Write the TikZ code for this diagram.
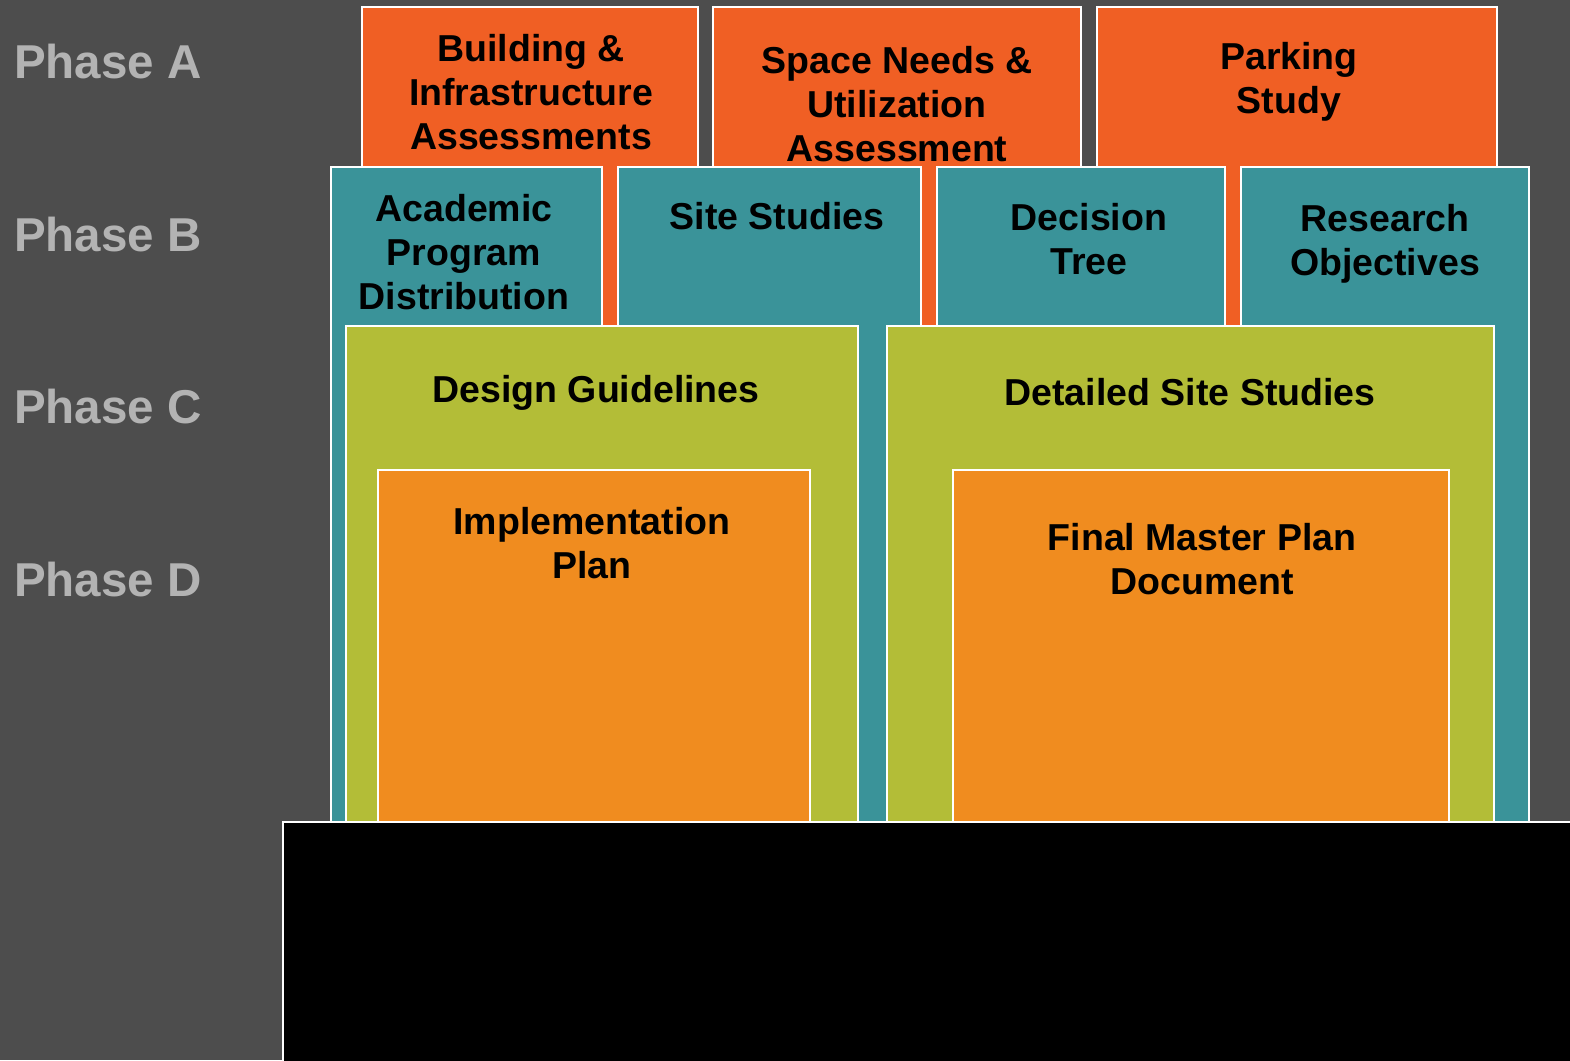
\documentclass[tikz,border=0pt]{standalone}
\usepackage{fontspec}
\setmainfont{Liberation Sans}
\definecolor{bgc}{HTML}{4D4D4D}
\definecolor{orA}{HTML}{F05F24}
\definecolor{tealB}{HTML}{3A9399}
\definecolor{grC}{HTML}{B3BD37}
\definecolor{orD}{HTML}{F08C1F}
\definecolor{phg}{HTML}{B3B3B3}
\tikzset{
  blk/.style={draw=white, line width=2.5pt, inner sep=0pt, minimum width=#1},
  boxA/.style={blk=#1, fill=orA},
  boxB/.style={blk=#1, fill=tealB},
  boxC/.style={blk=#1, fill=grC},
  boxD/.style={blk=#1, fill=orD},
  boxK/.style={blk=#1, fill=black},
  txt/.style={align=center, inner sep=0pt, font=\fontsize{37.5}{44}\selectfont\bfseries, text=black},
  phase/.style={anchor=west, inner sep=0pt, font=\fontsize{47.5}{50}\selectfont\bfseries, text=phg}
}
\begin{document}
\begin{tikzpicture}[x=1pt,y=-1pt]
\useasboundingbox (0,0) rectangle (1570,1060);
\fill[bgc] (0,0) rectangle (1570,1060);
% Phase labels
\node[phase] (pa) at (14,62) {Phase A};
\node[phase] (pb) at (14,235) {Phase B};
\node[phase] (pc) at (14,407) {Phase C};
\node[phase] (pd) at (14,580) {Phase D};
% Phase A
\node[boxA=336pt, minimum height=319pt] (a1) at (530,166.5) {};
\node[boxA=368pt, minimum height=319pt] (a2) at (897,166.5) {};
\node[boxA=400pt, minimum height=319pt] (a3) at (1297,166.5) {};
% Phase B
\node[boxB=271pt, minimum height=655pt] (b1) at (466.5,494.5) {};
\node[boxB=303pt, minimum height=655pt] (b2) at (769.5,494.5) {};
\node[boxB=288pt, minimum height=655pt] (b3) at (1081,494.5) {};
\node[boxB=288pt, minimum height=655pt] (b4) at (1385,494.5) {};
% Phase C
\node[boxC=512pt, minimum height=496pt] (c1) at (602,574) {};
\node[boxC=607pt, minimum height=496pt] (c2) at (1190.5,574) {};
% Phase D
\node[boxD=432pt, minimum height=352pt] (d1) at (594,646) {};
\node[boxD=496pt, minimum height=352pt] (d2) at (1201,646) {};
% black base
\node[boxK=1300pt, minimum height=250pt] (k) at (933,947) {};
% texts
\node[txt] (ta1) at (531,92) {Building \&\\Infrastructure\\Assessments};
\node[txt] (ta2) at (897,104) {Space Needs \&\\Utilization\\Assessment};
\node[txt] (ta3) at (1289,82) {Parking\\Study};
\node[txt] (tb1) at (464,252) {Academic\\Program\\Distribution};
\node[txt] (tb2) at (777,216) {Site Studies};
\node[txt] (tb3) at (1089,239.5) {Decision\\Tree};
\node[txt] (tb4) at (1385,244) {Research\\Objectives};
\node[txt] (tc1) at (596,393) {Design Guidelines};
\node[txt] (tc2) at (1190,392) {Detailed Site Studies};
\node[txt] (td1) at (592,543) {Implementation\\Plan};
\node[txt] (td2) at (1202,559) {Final Master Plan\\Document};
\end{tikzpicture}
\end{document}
